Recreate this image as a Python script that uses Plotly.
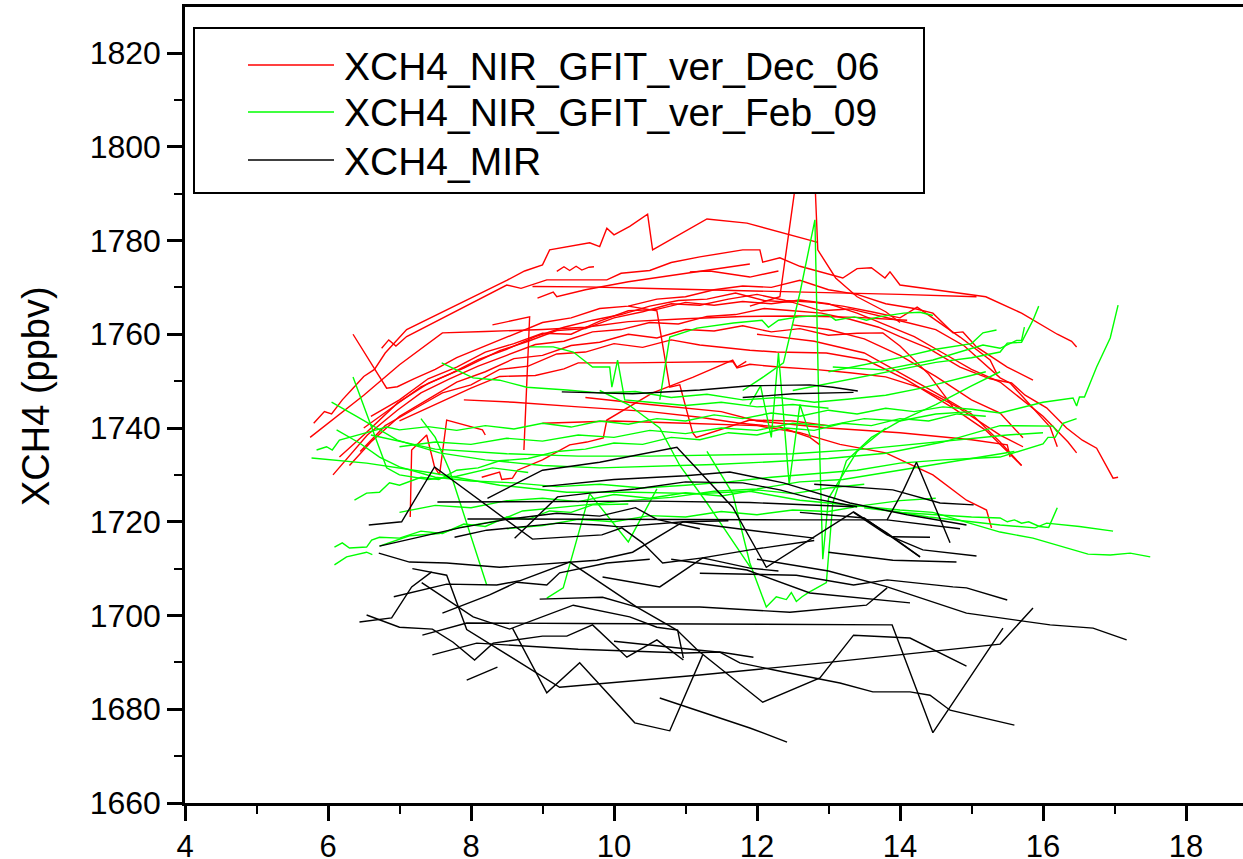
import plotly.graph_objects as go

# ---------------- data (x = independent variable, y = XCH4 in ppbv) ----------------
# each series is a list of separate segments; each segment is a list of (x, y) points

dec06_segments = [
    [(5.8,1741),(5.95,1743.5),(6.05,1743),(6.2,1746),(6.35,1748.5),(6.5,1751),(6.65,1752.5),(6.8,1756),(6.95,1758.5),(7.1,1761),(8.5,1771.5),(8.75,1773.5),(9.0,1774.8),(9.1,1778),(9.66,1779.5),(9.8,1778.7),(9.9,1782.6),(10.0,1781.2),(10.22,1783),(10.47,1785.6),(10.54,1778),(11.3,1784.6),(11.86,1783.7),(12.85,1779.6)],
    [(9.2,1773.4),(9.3,1774.4),(9.38,1773.6),(9.47,1774.5),(9.55,1773.7),(9.65,1774.3),(9.72,1774.4)],
    [(6.75,1757),(6.85,1758.8),(6.95,1757.5),(7.1,1759.5),(8.5,1770.5),(8.7,1769.8),(9.06,1771.6),(9.9,1771.6),(10.1,1773),(10.5,1773.6),(10.8,1775.3),(11.2,1776.5),(11.8,1778),(12.04,1778),(12.08,1775.4),(12.32,1776.3),(12.6,1774.5),(12.95,1773),(13.2,1772),(13.4,1774),(13.6,1774.2),(13.79,1772),(13.86,1773.3),(14.0,1770.5),(14.5,1769.5),(15.2,1768),(15.7,1764.5),(16.2,1760),(16.4,1758.5),(16.47,1757.3)],
    [(5.75,1738),(6.5,1747),(7.0,1753.5),(7.6,1760.3),(8.2,1760.6),(9.0,1761),(9.6,1761.5),(10.2,1762.7),(11.0,1763.3),(11.8,1763.8),(12.6,1763.9),(13.4,1763.6),(14.1,1763)],
    [(8.86,1770.2),(9.6,1770.1),(10.4,1769.8),(11.3,1769.5),(12.2,1769.2),(13.1,1768.9),(14.0,1768.5),(15.07,1768)],
    [(6.35,1760),(6.6,1754),(6.82,1748.5),(6.97,1748.8),(7.2,1750.5),(7.5,1752.5),(7.8,1755),(8.2,1757.5),(8.6,1760),(9.0,1762.5),(9.4,1763.5),(9.8,1765.5),(10.2,1766),(10.6,1767.5),(11.0,1768),(11.4,1769.5),(11.8,1770.3),(12.2,1770),(12.6,1771.5),(13.0,1769.5),(13.4,1768.5),(13.8,1766.5),(14.2,1765.5),(14.46,1764.5),(14.74,1760.3),(14.88,1760.5),(15.07,1757.3),(15.3,1755),(15.5,1753),(15.86,1750.2)],
    [(6.07,1730),(6.3,1734),(6.55,1738.5),(6.97,1743.8),(7.3,1747.5),(7.7,1750.5),(8.1,1753.2),(8.5,1755.5),(8.9,1757.8),(9.3,1758.5),(9.7,1760.5),(10.1,1761),(10.5,1762.5),(10.9,1762.2),(11.3,1763.8),(11.7,1764.2),(12.1,1765.5),(12.5,1765),(12.9,1764.5),(13.3,1763.2),(13.7,1761.5),(14.0,1759.5),(14.4,1757),(14.84,1753),(15.26,1750.5),(15.56,1749.6),(15.75,1747),(16.05,1744.3),(16.33,1740),(16.55,1737.4),(16.75,1735.7),(16.98,1729.3),(17.05,1729.5)],
    [(6.16,1733.8),(6.5,1738.5),(6.97,1745.3),(7.4,1749.5),(7.9,1752.8),(8.4,1756.5),(8.8,1758.5),(9.2,1760.8),(9.6,1761.2),(10.0,1763.5),(10.4,1764.8),(10.8,1766.5),(11.2,1766.2),(11.6,1767.5),(12.0,1768.5),(12.4,1767.2),(12.8,1766.8),(13.2,1766),(13.6,1764.8),(14.0,1763.5),(14.24,1765.8),(14.5,1763),(14.84,1759.4),(15.26,1754.5),(15.35,1751.7)],
    [(6.3,1732),(6.6,1737),(7.0,1742.5),(7.4,1746.2),(7.8,1749.8),(8.2,1752),(8.6,1754.8),(9.0,1755.5),(9.4,1757.6),(9.8,1758.3),(10.2,1760),(10.6,1759.2),(11.0,1761),(11.4,1760.7),(11.8,1761.8),(12.2,1760.5),(12.6,1761.2),(13.0,1759.8),(13.4,1760.2),(13.76,1760.3),(14.0,1757.5),(14.4,1751.5),(14.74,1744.5)],
    [(6.45,1735),(6.8,1740.5),(7.2,1744),(7.6,1747.5),(8.0,1749.2),(8.4,1752.5),(8.8,1753.2),(9.2,1755.8),(9.6,1756.2),(10.0,1758),(10.4,1757.2),(10.8,1758.8),(11.2,1757.7),(11.9,1756.6),(12.27,1756.2),(12.97,1756),(13.53,1754.5),(14.1,1750.2),(14.74,1744.3),(15.2,1739.5),(15.7,1732)],
    [(6.5,1740),(6.9,1744.5),(7.3,1748.8),(7.7,1751.5),(8.1,1754.6),(8.5,1756.8),(8.9,1759.5),(9.3,1761.5),(9.7,1763),(10.1,1764.2),(10.5,1766),(10.9,1767.2),(11.3,1767.5),(11.7,1768.8),(12.1,1767.2),(12.5,1766.8),(12.9,1765),(13.3,1765.4),(13.7,1764),(14.1,1762.5),(14.5,1761),(14.9,1757.5),(15.4,1750.7),(15.54,1749.6),(15.72,1746.6),(16.1,1740.2),(16.2,1736)],
    [(6.6,1742.5),(7.0,1746),(7.4,1750.5),(7.8,1753),(8.2,1756.2),(8.6,1758),(9.0,1760.2),(9.4,1760),(9.8,1762.8),(10.2,1765),(10.6,1765.3),(11.0,1766.8),(11.4,1766.2),(11.8,1767),(12.2,1766.5),(12.6,1767.3),(13.0,1766.5),(13.4,1764.5),(13.8,1762),(14.2,1759.5),(14.6,1756),(15.0,1752.5),(15.4,1749.8),(16.0,1742.5),(16.35,1737),(16.47,1734.7)],
    [(7.0,1741.5),(7.5,1745),(8.0,1748.5),(8.4,1751),(8.9,1751.2),(9.3,1752.6),(9.5,1753.9),(10.2,1753.9),(11.0,1754),(11.66,1754.2),(11.72,1752.8),(11.9,1753.6),(12.3,1753),(12.8,1752.5),(13.3,1751.8),(13.8,1750.9),(14.3,1748.5),(14.8,1744.5),(15.4,1738.5),(15.72,1736)],
    [(7.9,1746),(8.6,1745.5),(9.5,1744.5),(10.5,1743.5),(11.2,1742.3),(11.76,1741),(12.32,1740.2),(12.74,1738),(12.88,1736.4)],
    [(9.6,1746.5),(10.5,1745),(11.5,1743.5),(12.0,1741.5),(13.0,1740),(14.0,1739),(15.0,1737.5),(15.5,1736.4),(15.54,1733.8)],
    [(7.15,1721),(7.17,1735.3),(7.38,1738.5),(7.49,1731.7),(7.56,1730),(7.66,1741.7),(8.16,1739.6),(8.2,1738.5)],
    [(8.15,1729.5),(8.4,1730.6),(8.43,1729),(8.58,1729.3),(8.65,1731),(9.0,1733.2),(9.38,1736.4),(9.62,1737),(9.85,1737.9),(9.9,1741.7),(10.54,1747.5),(11.1,1750.8),(11.66,1754.5),(11.72,1753),(11.85,1754.2)],
    [(8.3,1762),(8.6,1763),(8.82,1763.7),(8.74,1735.3)],
    [(10.2,1766),(10.6,1765),(10.78,1748.7),(10.92,1749.2),(11.1,1739),(11.15,1738),(11.9,1741.7),(12.5,1741.5),(13.0,1740.5)],
    [(11.9,1766),(12.1,1767),(12.32,1768),(12.75,1815),(12.85,1778),(13.1,1772),(13.4,1768),(13.8,1764.8),(14.0,1762.5)],
    [(12.5,1762),(13.0,1761),(13.5,1759),(14.0,1755.5),(14.5,1751),(15.0,1746),(15.4,1743.2),(15.72,1737.9)],
    [(12.0,1760),(12.8,1758.5),(13.5,1756),(14.0,1751.7),(14.5,1747.5),(15.0,1743),(15.4,1737),(15.7,1732)],
    [(9.0,1741),(10.0,1741.5),(11.0,1741),(12.0,1740.5),(12.6,1739),(13.16,1736.5),(13.8,1734.7),(14.1,1732.5),(14.46,1730),(14.93,1724.6),(15.21,1722.5),(15.28,1718.7)],
    [(8.93,1767.7),(9.15,1769),(9.2,1768),(9.6,1769.5),(10.2,1771.2),(10.8,1772.5),(11.4,1773.8),(11.9,1775)],
    [(11.06,1773.3),(11.34,1773.5),(11.9,1772.2),(12.3,1773.5)],
]

feb09_segments = [
    [(5.77,1733.6),(6.54,1732.5),(7.46,1730.4),(8.4,1727.8),(9.34,1726.3),(10.26,1726.3),(11.2,1726),(11.9,1726.5),(12.6,1724.6),(13.3,1723.5),(14.0,1722.5),(14.46,1722),(15.0,1719.5),(15.4,1717.8),(15.86,1716.5),(16.63,1713.1),(16.94,1712.9),(17.22,1713.3),(17.5,1712.5)],
    [(6.05,1745.5),(6.4,1742.5),(6.97,1737.4),(7.56,1734.7),(8.2,1733.2),(9.0,1732),(9.8,1731.5),(10.6,1731.8),(11.4,1732.2),(12.2,1732.8),(13.0,1733.5),(13.8,1734.6),(14.6,1737),(15.4,1740.5),(16.14,1740.4),(16.2,1739.1)],
    [(5.84,1735.3),(5.98,1736),(6.06,1735.3),(6.16,1737.4),(6.54,1739),(6.82,1740.2),(7.0,1739.6),(7.4,1740.3),(7.8,1739.5),(8.2,1740.5),(8.6,1739.8),(9.0,1741),(9.4,1740.2),(9.8,1741.5),(10.2,1740.8),(10.6,1742),(11.0,1741.5),(11.4,1742.8),(11.8,1742),(12.2,1743.2),(12.6,1742.5),(13.0,1743.8),(13.4,1743),(13.8,1744.2),(14.2,1743.5),(14.6,1744.5),(15.0,1744),(15.4,1743.2),(16.0,1745.5),(16.42,1746.4),(16.47,1744.7),(16.51,1746.6),(16.58,1746.6),(16.75,1753),(16.94,1759.2),(17.05,1766.2)],
    [(6.12,1739.6),(6.44,1736.8),(6.72,1733.8),(7.0,1731.7),(7.5,1729.5),(8.0,1728.7),(8.6,1728.3),(9.2,1727.5),(9.8,1728),(10.4,1727.2),(11.0,1727.8),(11.6,1728.5),(12.2,1729.5),(12.8,1730.2),(13.4,1731),(14.0,1732.5),(14.6,1733.2),(15.0,1733.5),(15.4,1733.8),(16.0,1736.6),(16.07,1738),(16.17,1738),(16.28,1741),(16.47,1742)],
    [(6.35,1750.9),(6.82,1731.5),(7.0,1730),(7.4,1729),(7.8,1729.7),(8.3,1731.5),(8.8,1730.5)],
    [(6.37,1724.6),(6.54,1726.1),(6.72,1726.3),(6.86,1728.3),(7.0,1727.8),(7.3,1729.5),(7.55,1729),(7.8,1731),(8.1,1731.5),(8.4,1733),(8.8,1733.5),(9.2,1735),(9.6,1735.5),(10.0,1736.8),(10.4,1736.5),(10.8,1738),(11.2,1737.5),(11.6,1739),(12.0,1738.5),(12.4,1740),(12.8,1739.5),(13.2,1741),(13.6,1740.5),(14.0,1742),(14.4,1741.5),(14.8,1743),(15.2,1742.5)],
    [(6.09,1714.6),(6.2,1715.5),(6.3,1714.4),(6.54,1714.6),(6.61,1716.1),(6.72,1716.7),(7.0,1716.5),(7.3,1718),(7.6,1717.5),(7.9,1719.5),(8.2,1719),(8.5,1721),(8.8,1720.5),(9.1,1722.3),(9.4,1722),(9.7,1723.6),(10.2,1723.8)],
    [(6.09,1710.8),(6.26,1712.5),(6.54,1713.5),(6.62,1713)],
    [(6.72,1714.8),(7.14,1717),(7.56,1717.5),(7.84,1718.8),(8.4,1720.3),(8.72,1722.3),(9.6,1723.6),(10.2,1724.5),(10.8,1725.2),(11.4,1726.5),(12.0,1727),(12.6,1728.5),(13.2,1729),(13.8,1730.5),(14.4,1732),(15.0,1733.5),(15.6,1735)],
    [(7.3,1742),(7.5,1738),(7.7,1731),(7.95,1719),(8.22,1706.5)],
    [(9.06,1703.7),(9.29,1705.9),(9.66,1726),(10.2,1715.7),(10.6,1727)],
    [(10.64,1746),(10.78,1759.4),(11.16,1761.3),(11.67,1762.4),(12.07,1763),(12.16,1761.5),(12.3,1763),(12.58,1763.7),(13.0,1764.1),(13.1,1763),(13.36,1763.7),(13.53,1763),(13.7,1763.7),(14.05,1764.5),(14.28,1764.7),(14.46,1764)],
    [(9.8,1748),(10.2,1745),(10.64,1740),(10.92,1732),(11.3,1724),(11.66,1716),(11.92,1710)],
    [(7.59,1753.9),(8.03,1750.7),(8.4,1750.2),(8.78,1748.7),(9.34,1748.1),(9.8,1747.5),(10.3,1747.8),(10.8,1746.5),(11.3,1747.2),(11.8,1746),(12.3,1746.5),(12.8,1745.5),(13.3,1746.2),(13.8,1747),(14.3,1748.5),(14.8,1750.5),(15.2,1752)],
    [(8.82,1757.3),(9.15,1757.3),(9.43,1756.2),(9.7,1753),(9.94,1753),(9.97,1748.7),(10.05,1754.5),(10.15,1746),(10.5,1745.5),(11.0,1744.8),(11.5,1745.5),(12.0,1744.5),(12.5,1745),(13.0,1744.2)],
    [(11.8,1748),(12.1,1751),(12.37,1753.9),(12.6,1768.8),(12.81,1784.4),(12.85,1754.5),(12.88,1733.2),(12.92,1712),(13.0,1725),(13.4,1735),(13.8,1740)],
    [(11.3,1735),(11.66,1726),(11.9,1711.2),(12.13,1701.8),(12.27,1704),(12.41,1703.4),(12.48,1704.9),(12.55,1703),(12.63,1704),(12.73,1705),(12.97,1707),(13.06,1724),(13.25,1733),(13.6,1738),(14.0,1741.5),(14.5,1745),(15.0,1749),(15.4,1752)],
    [(12.5,1748),(13.0,1749.5),(13.5,1751),(14.0,1752.5),(14.5,1754),(15.0,1755),(15.4,1756.2),(15.5,1758.1),(15.7,1758.3),(15.86,1763),(15.94,1766)],
    [(13.0,1752),(13.5,1753.5),(14.0,1755),(14.5,1756.8),(15.0,1758),(15.16,1760.3),(15.35,1760.9)],
    [(13.06,1753),(13.76,1752.4),(14.46,1754.5),(14.93,1756.6),(15.16,1757.7),(15.4,1757),(15.63,1758.7),(15.7,1758.7),(15.74,1761.5)],
    [(13.5,1723),(14.0,1722),(14.5,1721.5),(15.0,1721),(15.4,1720.8),(15.5,1720),(15.6,1720.4),(15.7,1719.7),(15.8,1720),(15.95,1719),(16.08,1718.8),(16.2,1723)],
    [(13.8,1722.5),(14.4,1721),(15.0,1720),(15.4,1719.3),(15.89,1718.7),(16.05,1719.7),(16.51,1719),(16.98,1718)],
    [(7.0,1722),(7.5,1723.5),(8.0,1723),(8.5,1724.5),(9.0,1725),(9.5,1724.3),(10.0,1725.8),(10.5,1725),(11.0,1726.2),(11.5,1725.5),(12.0,1726.8),(12.5,1726),(13.0,1727.2),(13.5,1728)],
    [(8.5,1718.5),(9.0,1719.2),(9.5,1720.5),(10.0,1720),(10.5,1721.3),(11.0,1721),(11.5,1722.2),(12.0,1721.5),(12.5,1722.5),(13.0,1722.2),(13.5,1723.5),(14.0,1724.5),(14.5,1725)],
    [(7.0,1736),(7.5,1737),(8.0,1736.5),(8.5,1737.8),(9.0,1737.2),(9.5,1738.5),(10.0,1738),(10.5,1739.5),(11.0,1738.8),(11.5,1740),(12.0,1739.5),(12.5,1741),(13.0,1740.5),(13.5,1742),(14.0,1741.5),(14.5,1743),(15.0,1743.5)],
    [(6.6,1738.5),(7.5,1735.5),(8.5,1734.5),(9.5,1734),(10.5,1734),(11.5,1734.2),(12.5,1734.5),(13.5,1735.5),(14.5,1737),(15.5,1738.5),(16.0,1739)],
    [(11.9,1745),(12.05,1749),(12.2,1738),(12.3,1756),(12.45,1728),(12.6,1745),(12.75,1738)],
]

mir_segments = [
    [(6.57,1719.3),(7.03,1720),(7.49,1731.7),(8.86,1716.3),(9.83,1717.2),(10.11,1718.7),(10.4,1715.5),(10.68,1711.2),(11.24,1712.3),(11.9,1710.1),(12.3,1709.5)],
    [(8.23,1725),(9.0,1731),(9.8,1732.7),(10.88,1735.9),(11.66,1723.1),(12.13,1710.3),(13.35,1722.1),(13.82,1717.6),(14.28,1712.5)],
    [(7.53,1724.2),(9.0,1724.3),(10.5,1724.4),(11.9,1724.1),(13.35,1723.2)],
    [(7.95,1720.6),(9.5,1720.5),(11.2,1720.4),(12.5,1720.4),(13.82,1720.4),(14.05,1726.8),(14.23,1732.7),(14.46,1724.2),(14.7,1715.5)],
    [(7.77,1716.7),(8.22,1718.2),(9.24,1719.7),(9.8,1719.3),(10.08,1718.9),(10.97,1720),(11.9,1718.2),(12.8,1716.5)],
    [(6.72,1714.8),(7.3,1716.8),(7.84,1718.7),(8.5,1720.5),(9.2,1721.8),(9.8,1721.2),(10.3,1723),(10.6,1720.5),(11.2,1718.5)],
    [(6.71,1713.3),(7.14,1711.4),(7.66,1711.2),(8.4,1710.3),(9.76,1711.8),(10.26,1713.5),(10.97,1720),(11.6,1720.2)],
    [(7.18,1710),(7.66,1708.6),(7.94,1697),(9.24,1684.7),(11.2,1687.3),(13.0,1690),(15.4,1693.9),(15.86,1701.6)],
    [(6.92,1704),(7.66,1706.7),(8.36,1706.5),(8.68,1707.4),(9.38,1711.4),(10.32,1701.8),(10.88,1696.9),(11.17,1692.6),(12.08,1681.5),(12.88,1686.7),(13.35,1695.8),(14.14,1695.2),(14.93,1689.2)],
    [(7.6,1700.5),(8.26,1704.4),(8.64,1707.1),(9.06,1706.5),(9.24,1709.1),(9.9,1711.2),(10.5,1712)],
    [(8.61,1716.5),(9.21,1725.3),(9.66,1726.1),(10.3,1727),(11.0,1728.5),(11.8,1728.3),(12.32,1726.8),(12.74,1725.1),(13.4,1723.2)],
    [(9.0,1727.5),(10.0,1729),(11.0,1729.8),(11.62,1730.6),(12.37,1728.3),(13.3,1724),(14.1,1721.5),(14.93,1719.3)],
    [(9.84,1708.2),(10.64,1706.1),(11.24,1712.3),(11.9,1714),(12.8,1716)],
    [(7.31,1707),(8.03,1699.7),(8.54,1697.1),(9.43,1702.2),(10.22,1699.7),(10.6,1697.5),(10.89,1696.9),(10.97,1690.9)],
    [(6.44,1698.6),(6.89,1699.5),(7.17,1706.1),(7.45,1709.3)],
    [(6.54,1700.1),(7.0,1697.5),(7.46,1697.1),(7.75,1694.3),(8.05,1690.5),(8.31,1694.1),(9.0,1695.6),(9.34,1695.6),(9.7,1698),(10.18,1691.1),(10.6,1694.8),(10.97,1690.5)],
    [(7.32,1695.8),(7.94,1698.4),(9.5,1698.3),(11.2,1698.2),(13.0,1698.1),(13.89,1698),(14.46,1675),(15.44,1697.3)],
    [(7.46,1691.6),(8.08,1694.1),(9.5,1692.8),(11.0,1692),(11.48,1692.2),(11.95,1691.1)],
    [(7.94,1686.2),(8.37,1689)],
    [(8.58,1697.3),(9.06,1683.5),(9.52,1689.9),(10.29,1677.1),(10.78,1675.4),(11.24,1691.6)],
    [(10.64,1682.4),(11.9,1676),(12.42,1673)],
    [(8.96,1703.5),(9.84,1703.9),(10.32,1701.8),(11.2,1701.8),(12.46,1700.7),(13.53,1702.2),(13.82,1705.9)],
    [(10.0,1694.5),(10.6,1693.5),(11.2,1692.6),(11.48,1692.2),(11.76,1689.9),(12.36,1688),(13.16,1685.6),(13.62,1683.7),(14.14,1683.7),(14.42,1683),(14.7,1679.8),(15.6,1676.6)],
    [(10.8,1712),(11.86,1709.7),(12.74,1704.8),(14.14,1702.7)],
    [(11.2,1709),(12.55,1708.6),(13.35,1706.5),(13.82,1707.6),(14.74,1706.1),(14.93,1705.9),(15.5,1703.3)],
    [(12.0,1712),(13.0,1709.5),(13.8,1706.2),(14.93,1700.5),(16.1,1698),(16.7,1697.3),(17.17,1694.8)],
    [(13.35,1722),(13.82,1717.2),(14.32,1714),(15.07,1712.7)],
    [(12.6,1722),(13.5,1720.8),(14.28,1712.5)],
    [(13.82,1720.4),(14.84,1718.5)],
    [(13.0,1713.5),(13.9,1711.8),(14.79,1711.4)],
    [(13.9,1716.8),(14.42,1716.7)],
    [(12.8,1728),(13.9,1726.8),(14.56,1724),(15.03,1723.6)],
    [(9.27,1747.7),(10.26,1747.3),(11.2,1748.1),(11.9,1749),(12.74,1749.2),(13.06,1748.7),(13.41,1747.9)],
    [(11.8,1746.5),(12.5,1747.3),(13.35,1747.6)],
]

series_names = ["XCH4_NIR_GFIT_ver_Dec_06", "XCH4_NIR_GFIT_ver_Feb_09", "XCH4_MIR"]
series_colors = ["#ff0000", "#00ff00", "#000000"]

x_ticks = [4, 6, 8, 10, 12, 14, 16, 18]
y_ticks = [1660, 1680, 1700, 1720, 1740, 1760, 1780, 1800, 1820]
y_title = "XCH4 (ppbv)"


def flatten(segments):
    xs, ys = [], []
    for seg in segments:
        for x, y in seg:
            xs.append(x)
            ys.append(y)
        xs.append(None)
        ys.append(None)
    return xs, ys


FONT = "Liberation Sans, Arial, sans-serif"
W, H = 1243, 859
ML, MR, MT, MB = 185, 0, 7, 56
PW, PH = W - ML - MR, H - MT - MB

fig = go.Figure()
for segs, name, col in zip([dec06_segments, feb09_segments, mir_segments], series_names, series_colors):
    xs, ys = flatten(segs)
    fig.add_trace(go.Scatter(x=xs, y=ys, mode="lines", name=name,
                             line=dict(color=col, width=1.4), connectgaps=False,
                             showlegend=False))


def px_x(p):
    return (p - ML) / PW


def px_y(p):
    return (H - MB - p) / PH


# custom legend box (drawn on top of the data, like the original)
shapes = [dict(type="rect", xref="paper", yref="paper",
               x0=px_x(194), x1=px_x(924), y0=px_y(193), y1=px_y(28),
               line=dict(color="black", width=2), fillcolor="white", layer="above")]
annotations = []
row_y = [65, 112, 160]
for name, col, ry in zip(series_names, series_colors, row_y):
    shapes.append(dict(type="line", xref="paper", yref="paper",
                       x0=px_x(248), x1=px_x(334), y0=px_y(ry), y1=px_y(ry),
                       line=dict(color=col, width=1.4), layer="above"))
    annotations.append(dict(xref="paper", yref="paper", x=px_x(342), y=px_y(ry + 1),
                            text=name, showarrow=False, xanchor="left", yanchor="middle",
                            font=dict(family=FONT, size=39, color="black")))

# y-axis title (placed like the original, slightly above the plot centre)
annotations.append(dict(xref="paper", yref="paper", x=px_x(36), y=px_y(396),
                        text=y_title, textangle=-90, showarrow=False,
                        xanchor="center", yanchor="middle",
                        font=dict(family=FONT, size=38, color="black")))

fig.update_layout(
    width=W, height=H,
    margin=dict(l=ML, r=MR, t=MT, b=MB, autoexpand=False),
    paper_bgcolor="white", plot_bgcolor="white",
    font=dict(family=FONT, color="black"),
    shapes=shapes, annotations=annotations,
    showlegend=False,
)
fig.update_xaxes(
    range=[4, 4 + PW / 71.5], tickvals=x_ticks, ticktext=[str(v) for v in x_ticks],
    showgrid=False, zeroline=False, automargin=False,
    showline=True, linecolor="black", linewidth=2.5, mirror=True,
    ticks="outside", ticklen=15, tickwidth=2.5, tickcolor="black",
    tickfont=dict(family=FONT, size=31, color="black"),
    ticklabelstandoff=-1,
    minor=dict(dtick=1, tick0=4, ticks="outside", ticklen=8, tickwidth=2, tickcolor="black", showgrid=False),
)
fig.update_yaxes(
    range=[1660, 1660 + PH / 4.6875], tickvals=y_ticks, ticktext=[str(v) for v in y_ticks],
    showgrid=False, zeroline=False, automargin=False,
    showline=True, linecolor="black", linewidth=2.5, mirror=False,
    ticks="outside", ticklen=15, tickwidth=2.5, tickcolor="black",
    tickfont=dict(family=FONT, size=32, color="black"),
    ticklabelstandoff=0,
    minor=dict(dtick=10, tick0=1660, ticks="outside", ticklen=8, tickwidth=2, tickcolor="black", showgrid=False),
)

# remove the browser's default page margin so the figure fills the window exactly
fig.write_html("out.html", config={"displayModeBar": False},
               post_script="document.body.style.margin='0';document.body.style.overflow='hidden';")
